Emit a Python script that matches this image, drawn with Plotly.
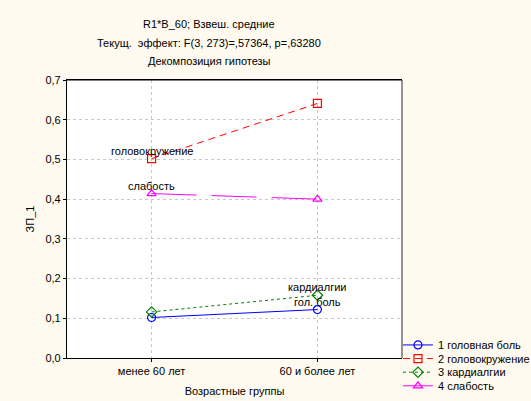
import plotly.graph_objects as go

categories = ["менее 60 лет", "60 и более лет"]
series_names = ["1 головная боль", "2 головокружение", "3 кардиалгии", "4 слабость"]
headache = [0.102, 0.122]
dizziness = [0.502, 0.641]
cardialgia = [0.116, 0.158]
weakness = [0.414, 0.400]
point_labels = [
    ["", "гол. боль"],
    ["головокружение", ""],
    ["", "кардиалгии"],
    ["слабость", ""],
]
title_lines = ["R1*B_60; Взвеш. средние",
               "Текущ.  эффект: F(3, 273)=,57364, p=,63280",
               "Декомпозиция гипотезы"]

values = [headache, dizziness, cardialgia, weakness]
colors = ["#0000FF", "#FF0000", "#008000", "#FF00FF"]
symbols = ["circle-open", "square-open", "diamond-open", "triangle-up-open"]
dashes = ["solid", "7px,5px", "dot", "45px,15px"]
sizes = [8, 8, 8, 8]
legend_ids = ["legend", "legend2", "legend3", "legend4"]
legend_y = [0.047, -0.002, -0.051, -0.100]
title_y = [1.201, 1.133, 1.068]

BG = "#FEFAEF"
FONT = "Liberation Sans, Arial, sans-serif"
fig = go.Figure()
ann = []
for name, vals, col, sym, dsh, lab, sz, lid in zip(series_names, values, colors, symbols,
                                                   dashes, point_labels, sizes, legend_ids):
    fig.add_trace(go.Scatter(
        x=categories, y=vals, name=name, mode="lines+markers",
        line=dict(color=col, width=1, dash=dsh),
        marker=dict(symbol=sym, size=sz, color=col, line=dict(color=col, width=1.2)),
        legend=lid,
    ))
    for c, v, t in zip(categories, vals, lab):
        if t:
            ann.append(dict(text=t, x=c, y=v, xref="x", yref="y", showarrow=False,
                            xanchor="center", yanchor="middle", yshift=8,
                            font=dict(family=FONT, size=11, color="#000000")))

for t, ty in zip(title_lines, title_y):
    ann.append(dict(text=t, xref="paper", yref="paper", x=0.424, y=ty,
                    xanchor="center", yanchor="middle", showarrow=False,
                    font=dict(family=FONT, size=11, color="#000000")))

legends = {}
for lid, ly in zip(legend_ids, legend_y):
    legends[lid] = dict(x=0.988, y=ly, xanchor="left", yanchor="middle",
                        bgcolor="rgba(0,0,0,0)", borderwidth=0,
                        font=dict(family=FONT, size=11, color="#000000"),
                        itemwidth=30)

fig.update_layout(
    width=531, height=401,
    margin=dict(l=67, r=129, t=80, b=43, autoexpand=False),
    paper_bgcolor=BG, plot_bgcolor="#FFFFFF",
    font=dict(family=FONT, size=11, color="#000000"),
    separators=", ",
    showlegend=True,
    annotations=ann,
    shapes=[dict(type="line", xref="paper", yref="paper", x0=1, x1=1, y0=0, y1=1,
                 line=dict(color="#707070", width=1.5)),
            dict(type="line", xref="paper", yref="paper", x0=0, x1=1, y0=1, y1=1,
                 line=dict(color="#000000", width=1.2))],
    **legends,
)
fig.update_xaxes(type="category", range=[-0.51, 1.51], showline=True, mirror=True,
                 linecolor="#000000", linewidth=1.2,
                 showgrid=True, gridcolor="#C8C8C8", griddash="dot", gridwidth=1,
                 ticks="outside", ticklen=3, tickcolor="#000000",
                 title=dict(text="Возрастные группы", standoff=11,
                            font=dict(family=FONT, size=11)),
                 tickfont=dict(family=FONT, size=11))
fig.update_yaxes(range=[0, 0.7], dtick=0.1, tickformat=".1f", showline=True, mirror=False,
                 linecolor="#000000", linewidth=1.2, zeroline=False,
                 showgrid=True, gridcolor="#C8C8C8", griddash="dot", gridwidth=1,
                 ticks="outside", ticklen=3, tickcolor="#000000",
                 title=dict(text="ЗП_1", standoff=8, font=dict(family=FONT, size=11)),
                 tickfont=dict(family=FONT, size=11))

fig.write_html("out.html", config={"displayModeBar": False},
               post_script="document.body.style.margin='0';"
                           "document.body.style.background='" + BG + "';"
                           "document.documentElement.style.overflow='hidden';")
